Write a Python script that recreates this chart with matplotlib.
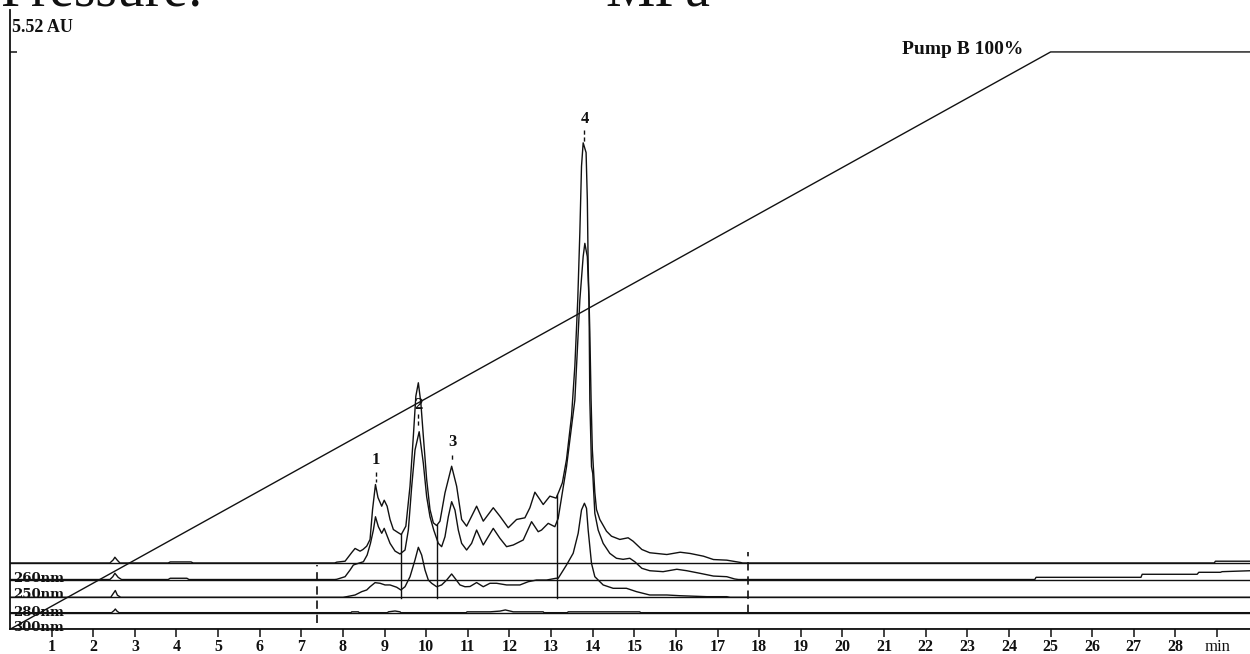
import matplotlib
matplotlib.use("Agg")
import matplotlib.pyplot as plt
import numpy as np

plt.rcParams["font.family"] = ["Liberation Serif", "DejaVu Serif"]

# ---- gradient program (Pump B, %) ----
pump_t = [0.0, 25.0, 29.8]
pump_pct = [0.0, 100.0, 100.0]

# ---- detector channels: time (min) and absorbance above own baseline (AU) ----
top_t = [0.0, 2.40, 2.48, 2.52, 2.57, 2.64, 3.80, 3.85, 4.35, 4.40, 7.80,
         7.85, 8.05, 8.21, 8.29, 8.41, 8.48, 8.57, 8.65, 8.71, 8.78, 8.84,
         8.93, 8.99, 9.06, 9.13, 9.21, 9.33, 9.40, 9.51, 9.61, 9.69, 9.75,
         9.81, 9.87, 9.93, 10.01, 10.09, 10.17, 10.25, 10.33, 10.45, 10.61,
         10.73, 10.85, 10.97, 11.09, 11.21, 11.37, 11.61, 11.77, 11.97,
         12.17, 12.37, 12.49, 12.61, 12.73, 12.81, 12.97, 13.12, 13.19,
         13.27, 13.37, 13.49, 13.57, 13.64, 13.69, 13.73, 13.77, 13.84,
         13.87, 13.89, 13.93, 13.96, 13.99, 14.05, 14.09, 14.17, 14.33,
         14.45, 14.65, 14.85, 14.97, 15.18, 15.37, 15.78, 16.10, 16.34,
         16.66, 16.90, 17.22, 17.55, 17.60, 28.93, 28.96, 29.8]
top_au = [0.0, 0.0, 0.03, 0.055, 0.03, 0.0, 0.0, 0.01, 0.01, 0.0, 0.0,
          0.008, 0.017, 0.10, 0.139, 0.113, 0.129, 0.161, 0.225, 0.511, 0.75,
          0.626, 0.543, 0.60, 0.543, 0.416, 0.32, 0.289, 0.272, 0.352, 0.734,
          1.212, 1.595, 1.723, 1.532, 1.212, 0.798, 0.511, 0.384, 0.358,
          0.40, 0.67, 0.925, 0.734, 0.416, 0.352, 0.447, 0.543, 0.40, 0.528,
          0.447, 0.337, 0.416, 0.432, 0.528, 0.677, 0.607, 0.559, 0.639,
          0.62, 0.686, 0.767, 0.99, 1.403, 1.881, 2.519, 3.159, 3.793, 4.017,
          3.924, 3.475, 2.838, 2.204, 1.563, 1.085, 0.674, 0.511, 0.416,
          0.304, 0.256, 0.225, 0.241, 0.208, 0.129, 0.098, 0.081, 0.103,
          0.091, 0.065, 0.033, 0.027, 0.005, 0.0, 0.0, 0.017, 0.017]

nm260_t = [0.0, 2.40, 2.47, 2.52, 2.60, 2.68, 3.80, 3.85, 4.25, 4.30, 7.80,
           7.85, 8.05, 8.17, 8.25, 8.37, 8.49, 8.58, 8.66, 8.73, 8.78, 8.85,
           8.93, 8.99, 9.13, 9.25, 9.37, 9.49, 9.57, 9.65, 9.73, 9.83, 9.93,
           10.01, 10.09, 10.18, 10.29, 10.37, 10.45, 10.53, 10.61, 10.69,
           10.77, 10.85, 10.97, 11.09, 11.21, 11.37, 11.61, 11.77, 11.93,
           12.09, 12.33, 12.53, 12.69, 12.77, 12.93, 13.09, 13.17, 13.37,
           13.57, 13.69, 13.77, 13.81, 13.87, 13.91, 13.93, 13.97, 14.00,
           14.05, 14.13, 14.25, 14.41, 14.57, 14.73, 14.89, 15.01, 15.18,
           15.37, 15.69, 16.02, 16.26, 16.58, 16.90, 17.22, 17.41, 17.50,
           24.62, 24.65, 27.17, 27.20, 28.52, 28.56, 29.08, 29.12, 29.8]
nm260_au = [0.0, 0.0, 0.027, 0.06, 0.02, 0.0, 0.0, 0.012, 0.012, 0.0, 0.0,
            0.002, 0.027, 0.091, 0.139, 0.155, 0.17, 0.234, 0.346, 0.473,
            0.60, 0.505, 0.442, 0.489, 0.346, 0.272, 0.244, 0.282, 0.473,
            0.887, 1.238, 1.413, 1.111, 0.792, 0.60, 0.473, 0.346, 0.314,
            0.409, 0.60, 0.744, 0.664, 0.473, 0.346, 0.282, 0.346, 0.473,
            0.33, 0.489, 0.394, 0.314, 0.33, 0.378, 0.553, 0.457, 0.473,
            0.537, 0.505, 0.585, 1.078, 1.716, 2.672, 3.088, 3.214, 3.086,
            2.672, 1.716, 1.078, 1.015, 0.633, 0.473, 0.346, 0.25, 0.203,
            0.193, 0.203, 0.17, 0.107, 0.084, 0.075, 0.098, 0.084, 0.059,
            0.033, 0.027, 0.005, 0.0, 0.0, 0.021, 0.021, 0.05, 0.05, 0.069,
            0.069, 0.075, 0.084]

nm250_t = [0.0, 2.42, 2.47, 2.53, 2.58, 2.66, 8.0, 8.09, 8.29, 8.45, 8.57,
           8.65, 8.77, 8.89, 9.01, 9.13, 9.29, 9.39, 9.49, 9.61, 9.73, 9.81,
           9.89, 9.97, 10.05, 10.13, 10.25, 10.37, 10.49, 10.61, 10.69,
           10.81, 10.93, 11.05, 11.21, 11.37, 11.53, 11.69, 11.93, 12.25,
           12.45, 12.65, 12.89, 13.12, 13.17, 13.37, 13.53, 13.65, 13.73,
           13.80, 13.85, 13.89, 13.97, 14.05, 14.25, 14.49, 14.81, 15.05,
           15.37, 15.78, 16.10, 16.74, 17.22, 17.30, 29.8]
nm250_au = [0.0, 0.0, 0.03, 0.065, 0.02, 0.0, 0.0, 0.006, 0.022, 0.054, 0.07,
            0.101, 0.14, 0.134, 0.118, 0.118, 0.096, 0.07, 0.101, 0.197,
            0.357, 0.478, 0.404, 0.261, 0.165, 0.134, 0.101, 0.118, 0.165,
            0.223, 0.182, 0.118, 0.101, 0.103, 0.141, 0.101, 0.134, 0.134,
            0.118, 0.118, 0.149, 0.165, 0.165, 0.182, 0.182, 0.309, 0.421,
            0.612, 0.835, 0.899, 0.851, 0.643, 0.325, 0.197, 0.118, 0.086,
            0.086, 0.054, 0.022, 0.022, 0.015, 0.006, 0.006, 0.0, 0.0]

nm280_t = [0.0, 2.44, 2.50, 2.53, 2.57, 2.62, 8.19, 8.21, 8.37, 8.39, 9.07,
           9.09, 9.25, 9.37, 9.39, 10.96, 10.98, 11.53, 11.77, 11.90, 12.05,
           12.09, 12.81, 12.83, 13.39, 13.41, 15.13, 15.15, 29.8]
nm280_au = [0.0, 0.0, 0.02, 0.035, 0.015, 0.0, 0.0, 0.008, 0.008, 0.0, 0.0,
            0.008, 0.016, 0.008, 0.0, 0.0, 0.008, 0.008, 0.015, 0.026, 0.012,
            0.008, 0.008, 0.0, 0.0, 0.008, 0.008, 0.0, 0.0]

nm300_t = [0.0, 29.8]
nm300_au = [0.0, 0.0]

channel_names = ["", "260nm", "250nm", "280nm", "300nm"]

# peaks marked on the chromatogram: label, retention time
peak_labels = ["1", "2", "3", "4"]
peak_rt = [8.79, 9.81, 10.63, 13.80]

# integration drop-lines and window markers (min)
drop_rt = [9.39, 10.26, 13.15]
window_rt = [7.37, 17.72]

# stacking offsets of the channels on the display (AU)
offsets = [0.634, 0.476, 0.306, 0.159, 0.0]
label_y = [None, 0.49, 0.33, 0.162, 0.02]
peak_label_y = [1.619, 2.145, 1.791, 4.878]
peak_dash = [(1.504, 1.408), (2.06, 1.93), (1.667, 1.61), (4.774, 4.65)]
drop_floor = 0.304
window_span = [(0.061, 0.615), (0.159, 0.742)]

W, H = 1250, 654
fig = plt.figure(figsize=(W / 100, H / 100), dpi=100)
ax = fig.add_axes([10 / W, 24.7 / H, 1240 / W, 619.3 / H])
ax.set_xlim(0, 29.79)
ax.set_ylim(0, 5.921)

ink = "#111111"
traces = [(top_t, top_au), (nm260_t, nm260_au), (nm250_t, nm250_au),
          (nm280_t, nm280_au), (nm300_t, nm300_au)]
for (t, a), off in zip(traces, offsets):
    ax.axhline(off, color=ink, lw=1.0)
    ax.plot(t, np.asarray(a) + off, color=ink, lw=1.0)

# channel names at the left edge
for name, y in zip(channel_names, label_y):
    if name:
        ax.text(0.07, y, name, family="DejaVu Serif", fontweight="bold",
                fontsize=9.5, va="center", ha="left", color=ink, clip_on=False)

# drop-lines from the top channel down to the 250 nm baseline
for rt in drop_rt:
    top = np.interp(rt, top_t, top_au) + offsets[0]
    ax.plot([rt, rt], [drop_floor, top], color=ink, lw=1.0)

for rt, (y0, y1) in zip(window_rt, window_span):
    ax.plot([rt, rt], [y0, y1], color=ink, lw=1.2, ls=(0, (5, 3.5)))

for lab, rt, y, (d0, d1) in zip(peak_labels, peak_rt, peak_label_y, peak_dash):
    ax.text(rt, y, lab, fontweight="bold", fontsize=12, ha="center",
            va="center", color=ink)
    ax.plot([rt, rt], [d0, d1], color=ink, lw=1.0, ls=(0, (3, 2)))

# gradient on its own percent scale
ax2 = ax.twinx()
ax2.set_ylim(0, 5.921 / 5.52 * 100)
ax2.plot(pump_t, pump_pct, color=ink, lw=1.0)
ax2.text(24.34, 100.4, "Pump B 100%", fontweight="bold", fontsize=14,
         ha="right", va="center", color=ink)
ax2.axis("off")

for side in ("top", "right"):
    ax.spines[side].set_visible(False)
for side in ("left", "bottom"):
    ax.spines[side].set_linewidth(1.3)
    ax.spines[side].set_color(ink)

ax.set_xticks(range(1, 30))
ax.set_xticklabels([str(i) for i in range(1, 29)] + ["min"],
                   fontweight="bold", fontsize=11.5)
ax.get_xticklabels()[-1].set_fontweight("normal")
ax.get_xticklabels()[-1].set_fontsize(12)
ax.tick_params(axis="x", direction="out", length=6, width=1.1, pad=1.0,
               colors=ink)
ax.set_yticks([5.52])
ax.tick_params(axis="y", direction="in", length=5, width=1.1,
               labelleft=False, colors=ink)

fig.text(12 / W, 1 - 27 / H, "5.52 AU", fontweight="bold", fontsize=13,
         ha="left", va="center", color=ink)
fig.text(0 / W, 1 - 6 / H, "Pressure:", fontsize=40, ha="left",
         va="baseline", color=ink)
fig.text(605 / W, 1 - 6 / H, "MPa", fontsize=40, ha="left",
         va="baseline", color=ink)

fig.savefig("out.png", dpi=100)
